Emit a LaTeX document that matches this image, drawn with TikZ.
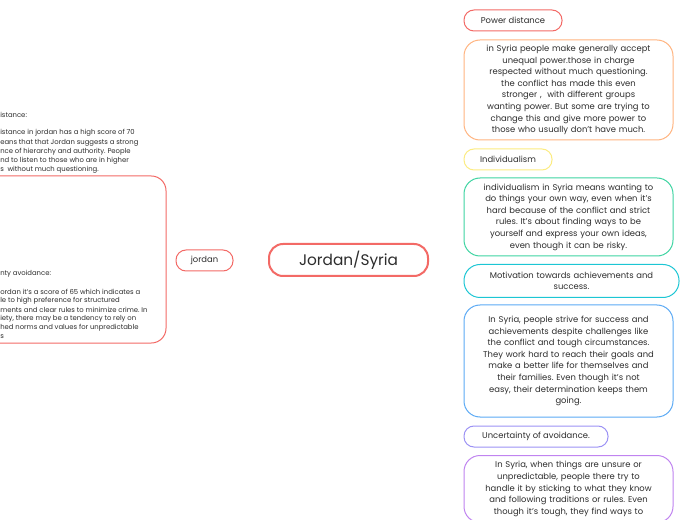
\documentclass[tikz,border=0pt]{standalone}
\usepackage{fontspec}
\setmainfont{Poppins}
\usetikzlibrary{calc,backgrounds}
\frenchspacing
\definecolor{cred}{RGB}{243,106,102}
\definecolor{corange}{RGB}{255,180,128}
\definecolor{cyellow}{RGB}{252,236,130}
\definecolor{cgreen}{RGB}{62,212,162}
\definecolor{ccyan}{RGB}{28,198,212}
\definecolor{cblue}{RGB}{92,170,245}
\definecolor{cviolet}{RGB}{156,146,245}
\definecolor{cpurple}{RGB}{192,132,240}
\definecolor{txt}{RGB}{45,45,45}
\newcommand\myboxfont{\fontsize{6.3}{8.7}\selectfont}
\newcommand\mysmallfont{\fontsize{5.15}{6.8}\selectfont}
\tikzset{
  pill/.style={draw=#1, line width=0.75pt, rounded corners=7.5pt, fill=white,
    text=txt, font=\myboxfont, inner sep=0pt, minimum height=15.75pt},
  bigbox/.style={draw=#1, line width=0.75pt, rounded corners=12pt, fill=white,
    text=txt, font=\myboxfont, inner sep=0pt, align=center, minimum width=156.75pt},
  conn/.style={draw=#1, line width=0.9pt},
  frag/.style={anchor=west, inner sep=0pt, text=txt, font=\mysmallfont},
}
\begin{document}
\begin{tikzpicture}[x=0.75pt,y=-0.75pt]
\useasboundingbox (0,0) rectangle (696,520);
\clip (0,0) rectangle (696,520);
\fill[white] (0,0) rectangle (696,520);

% central node
\node[draw=cred, line width=1.5pt, rounded corners=10.5pt, fill=white, text=txt,
  font=\fontsize{11.5}{13}\selectfont, inner sep=0pt,
  minimum width=119.25pt, minimum height=24pt] (c) at (348.5,260) {Jordan/Syria};

% right branch nodes
\node[pill=cred, minimum width=73.5pt] (pd) at (513,20.5) {Power distance};
\node[bigbox=corange, minimum height=75pt, text width=140pt] (ob) at (568.5,90)
  {in Syria people make generally accept\\unequal power.those in charge\\respected without much questioning.\\the conflict has made this even\\stronger ,~ with different groups\\wanting power. But some are trying to\\change this and give more power to\\those who usually don't have much.};
\node[pill=cyellow, minimum width=66pt] (ind) at (508,159.5) {Individualism};
\node[bigbox=cgreen, minimum height=58.5pt, text width=140pt] (gb) at (568.5,217)
  {individualism in Syria means wanting to\\do things your own way, even when it's\\hard because of the conflict and strict\\rules. It's about finding ways to be\\yourself and express your own ideas,\\even though it can be risky.};
\node[bigbox=ccyan, minimum width=161.25pt, minimum height=24.75pt, text width=150pt] (mo) at (571.5,281)
  {Motivation towards achievements and\\success.};
\node[bigbox=cblue, minimum height=84pt, text width=140pt] (bb) at (568.5,361)
  {In Syria, people strive for success and\\achievements despite challenges like\\the conflict and tough circumstances.\\They work hard to reach their goals and\\make a better life for themselves and\\their families. Even though it's not\\easy, their determination keeps them\\going.};
\node[pill=cviolet, minimum width=108pt] (ua) at (536,436.5) {Uncertainty of avoidance.};
\node[bigbox=cpurple, minimum height=50.25pt, text width=140pt, anchor=north] (pb) at (568.5,455)
  {In Syria, when things are unsure or\\unpredictable, people there try to\\handle it by sticking to what they know\\and following traditions or rules. Even\\though it's tough, they find ways to};

% left branch
\node[pill=cred, minimum width=42.75pt] (jd) at (204.5,260.5) {jordan};
\node[draw=cred, line width=0.75pt, rounded corners=11pt, minimum width=169.5pt,
  minimum height=125.25pt, inner sep=0pt] (jb) at (53,259.5) {};

% left text fragments (clipped by the picture edge)
\node[frag] (t1) at (0,115) {istance:};
\node[frag] (t2) at (0,133) {istance in jordan has a high score of 70};
\node[frag] (t3) at (0,142.5) {eans that that Jordan suggests a strong};
\node[frag] (t4) at (0,151.5) {nce of hierarchy and authority. People};
\node[frag] (t5) at (0,161) {nd to listen to those who are in higher};
\node[frag] (t6) at (0,170) {s~ without much questioning.};
\node[frag] (u1) at (0,274) {nty avoidance:};
\node[frag] (u2) at (0,292) {ordan it's a score of 65 which indicates a};
\node[frag] (u3) at (0,301) {le to high preference for structured};
\node[frag] (u4) at (0,310) {ments and clear rules to minimize crime. In};
\node[frag] (u5) at (0,319) {iety, there may be a tendency to rely on};
\node[frag] (u6) at (0,328) {hed norms and values for unpredictable};
\node[frag] (u7) at (0,336.5) {s};

% connectors
\begin{scope}[on background layer]
\draw[conn=cred] ($(c.north)+(32.5,1)$) .. controls +(29,-135) and +(-33,0) .. (pd.west);
\draw[conn=corange] ($(c.north)+(44.5,1)$) .. controls +(25,-93) and +(-28,0) .. (ob.west);
\draw[conn=cyellow] ($(c.north)+(60.5,1)$) .. controls +(19,-52) and +(-22,0) .. (ind.west);
\draw[conn=cgreen] ($(c.east)+(-5,-11)$) .. controls +(14,-19) and +(-16,0) .. (gb.west);
\draw[conn=ccyan] ($(c.east)+(-1,8)$) .. controls +(13,8) and +(-15,0) .. (mo.west);
\draw[conn=cblue] ($(c.south)+(60.5,0)$) .. controls +(19,51) and +(-22,0) .. (bb.west);
\draw[conn=cviolet] ($(c.south)+(44.5,0)$) .. controls +(25,96) and +(-28,0) .. (ua.west);
\draw[conn=cpurple] ($(c.south)+(32.5,0)$) .. controls +(29,134) and +(-33,0) .. (pb.west);
\draw[conn=cred] (c.west) -- (jd.east);
\draw[conn=cred] (jd.west) -- (jb.east);
\end{scope}
\end{tikzpicture}
\end{document}
